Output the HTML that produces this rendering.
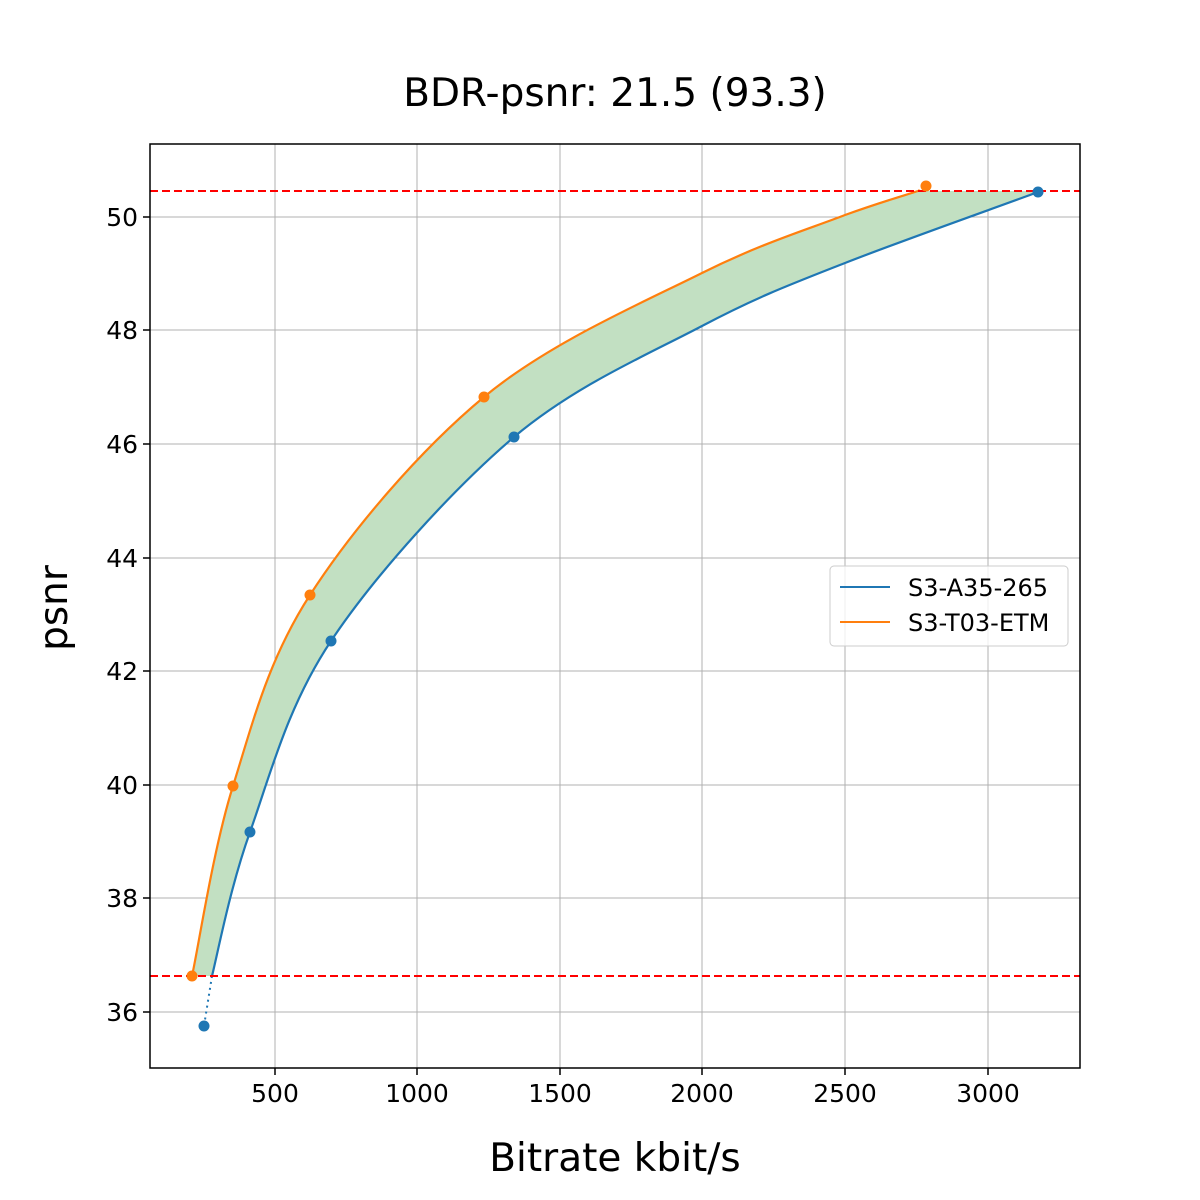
<!DOCTYPE html>
<html><head><style>body{margin:0;background:#fff}svg{display:block}</style></head>
<body>
<svg width="1200" height="1200" xmlns="http://www.w3.org/2000/svg" font-family="DejaVu Sans, Liberation Sans, sans-serif">
<rect width="1200" height="1200" fill="#fff"/>
<text x="615" y="106" font-size="39" text-anchor="middle">BDR-psnr: 21.5 (93.3)</text>
<g stroke="#b0b0b0" stroke-width="1">
<line x1="275" y1="144" x2="275" y2="1068"/><line x1="417" y1="144" x2="417" y2="1068"/><line x1="560" y1="144" x2="560" y2="1068"/><line x1="702" y1="144" x2="702" y2="1068"/><line x1="845" y1="144" x2="845" y2="1068"/><line x1="988" y1="144" x2="988" y2="1068"/>
<line x1="150" y1="217" x2="1080" y2="217"/><line x1="150" y1="330" x2="1080" y2="330"/><line x1="150" y1="444" x2="1080" y2="444"/><line x1="150" y1="558" x2="1080" y2="558"/><line x1="150" y1="671" x2="1080" y2="671"/><line x1="150" y1="785" x2="1080" y2="785"/><line x1="150" y1="898" x2="1080" y2="898"/><line x1="150" y1="1012" x2="1080" y2="1012"/>
</g>
<path fill="#c2e0c2" d="M192,976 C199,944 213,850 233,786 C253,722 268,660 310,595 C352,530 419,451 484,397 C549,343 642,303 702,273 C762,243 809,229 845,215 C881,202 906,195 918,191 L1038,191 C1006,204 901,241 845,263 C789,285 757,297 702,326 C647,355 576,385 514,437 C452,490 375,575 331,641 C287,707 270,776 250,832 C230,888 218,952 212,976 Z"/>
<path fill="none" stroke="#1f77b4" stroke-width="2.2" d="M212,976 C218,952 230,888 250,832 C270,776 287,707 331,641 C375,575 452,490 514,437 C576,385 647,355 702,326 C757,297 789,285 845,263 C901,241 1006,204 1038,192"/>
<path fill="none" stroke="#ff7f0e" stroke-width="2.2" d="M192,976 C199,944 213,850 233,786 C253,722 268,660 310,595 C352,530 419,451 484,397 C549,343 642,303 702,273 C762,243 809,229 845,215 C881,202 906,195 918,191"/>
<line x1="212" y1="976" x2="204" y2="1026" stroke="#1f77b4" stroke-width="2" stroke-dasharray="2,4"/>
<line x1="918" y1="191" x2="926" y2="186" stroke="#ff7f0e" stroke-width="2" stroke-dasharray="2,3"/>
<g stroke="#f00" stroke-width="2" stroke-dasharray="8,4"><line x1="150" y1="191" x2="1080" y2="191"/><line x1="150" y1="976" x2="1080" y2="976"/></g>
<g fill="#1f77b4"><circle cx="204" cy="1026" r="5.5"/><circle cx="250" cy="832" r="5.5"/><circle cx="331" cy="641" r="5.5"/><circle cx="514" cy="437" r="5.5"/><circle cx="1038" cy="192" r="5.5"/></g>
<g fill="#ff7f0e"><circle cx="192" cy="976" r="5.5"/><circle cx="233" cy="786" r="5.5"/><circle cx="310" cy="595" r="5.5"/><circle cx="484" cy="397" r="5.5"/><circle cx="926" cy="186" r="5.5"/></g>
<rect x="150" y="144" width="930" height="924" fill="none" stroke="#000" stroke-width="1.5"/>
<g stroke="#000" stroke-width="1.5">
<line x1="275" y1="1068" x2="275" y2="1075"/><line x1="417" y1="1068" x2="417" y2="1075"/><line x1="560" y1="1068" x2="560" y2="1075"/><line x1="702" y1="1068" x2="702" y2="1075"/><line x1="845" y1="1068" x2="845" y2="1075"/><line x1="988" y1="1068" x2="988" y2="1075"/>
<line x1="143" y1="217" x2="150" y2="217"/><line x1="143" y1="330" x2="150" y2="330"/><line x1="143" y1="444" x2="150" y2="444"/><line x1="143" y1="558" x2="150" y2="558"/><line x1="143" y1="671" x2="150" y2="671"/><line x1="143" y1="785" x2="150" y2="785"/><line x1="143" y1="898" x2="150" y2="898"/><line x1="143" y1="1012" x2="150" y2="1012"/>
</g>
<g font-size="25" text-anchor="middle">
<text x="275" y="1102">500</text><text x="417" y="1102">1000</text><text x="560" y="1102">1500</text><text x="702" y="1102">2000</text><text x="845" y="1102">2500</text><text x="988" y="1102">3000</text>
</g>
<g font-size="25" text-anchor="end">
<text x="138" y="226">50</text><text x="138" y="339">48</text><text x="138" y="453">46</text><text x="138" y="567">44</text><text x="138" y="680">42</text><text x="138" y="794">40</text><text x="138" y="907">38</text><text x="138" y="1021">36</text>
</g>
<text x="615" y="1171" font-size="39" text-anchor="middle">Bitrate kbit/s</text>
<text transform="translate(67,608) rotate(-90)" font-size="39" text-anchor="middle">psnr</text>
<rect x="830" y="566" width="238" height="80" rx="4" fill="#fff" fill-opacity="0.8" stroke="#ccc"/>
<line x1="840" y1="587" x2="890" y2="587" stroke="#1f77b4" stroke-width="2"/>
<line x1="840" y1="622" x2="890" y2="622" stroke="#ff7f0e" stroke-width="2"/>
<text x="908" y="596" font-size="24">S3-A35-265</text>
<text x="908" y="631" font-size="24">S3-T03-ETM</text>
</svg>
</body></html>
